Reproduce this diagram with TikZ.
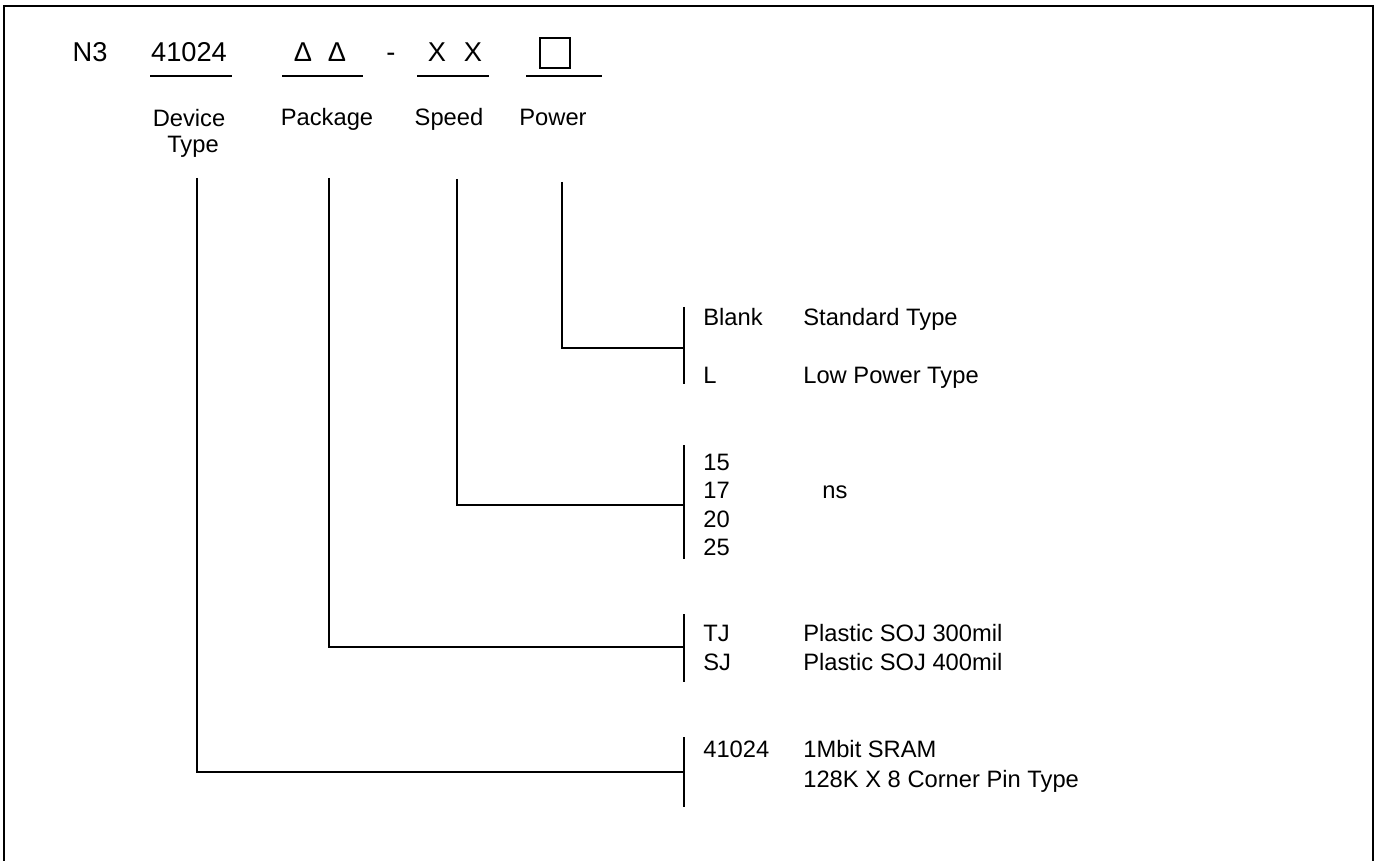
\documentclass[tikz,border=0pt]{standalone}
\usepackage{fontspec}
\setmainfont{Liberation Sans}
\usetikzlibrary{positioning}
\tikzset{
  txt/.style={font=\fontsize{13.5}{16}\selectfont, inner sep=0pt},
  big/.style={font=\fontsize{15.5}{18}\selectfont, inner sep=0pt, anchor=base},
  code/.style={txt, anchor=base west},
  head/.style={txt, anchor=base},
  wire/.style={line width=1.1pt},
  uline/.style={line width=1.2pt}
}
\begin{document}
\begin{tikzpicture}[x=0.02cm, y=-0.02cm]
\useasboundingbox (0,0) rectangle (1375,861);
% Frame
\draw[line width=1.4pt] (4,861) -- (4,6) -- (1373,6) -- (1373,861);
% Part number
\node[big] (n3) at (90,62) {N3};
\node[big] (devCode) at (189,62) {41024};
\node[big] (pkgCode) at (320,62) {Δ\hspace{0.58em}Δ};
\node[big] (dash) at (391,62) {-};
\node[big] (spdCode) at (455,62) {X\hspace{0.66em}X};
\node[draw, line width=1.1pt, minimum size=0.6cm, inner sep=0pt] (pwrCode) at (555,53) {};
\draw[uline] (150,76) -- (232,76);
\draw[uline] (282,76) -- (363,76);
\draw[uline] (417,76) -- (489,76);
\draw[uline] (526,76) -- (602,76);
% Field names
\node[head] (devLbl) at (189,127) {Device};
\node[head] (devLbl2) at (193,153) {Type};
\node[head] (pkgLbl) at (327,126) {Package};
\node[head] (spdLbl) at (449,126) {Speed};
\node[head] (pwrLbl) at (553,126) {Power};
% Branch points
\coordinate (devTop) at (197,178);
\coordinate (pkgTop) at (329,178);
\coordinate (spdTop) at (457,179);
\coordinate (pwrTop) at (562,182);
\coordinate (pwrBar) at (684,348);
\coordinate (spdBar) at (684,505);
\coordinate (pkgBar) at (684,647);
\coordinate (devBar) at (684,772);
% Connectors
\draw[wire] (pwrTop) |- (pwrBar);
\draw[wire] (spdTop) |- (spdBar);
\draw[wire] (pkgTop) |- (pkgBar);
\draw[wire] (devTop) |- (devBar);
% Bars
\draw[wire] (684,307) -- (684,384);
\draw[wire] (684,445) -- (684,559);
\draw[wire] (684,614) -- (684,682);
\draw[wire] (684,737) -- (684,807);
% Power options
\node[code] (pwrBlank) at (703,325) {Blank};
\node[code] (pwrStd) at (803,325) {Standard Type};
\node[code] (pwrL) at (703,383) {L};
\node[code] (pwrLow) at (803,383) {Low Power Type};
% Speed options
\foreach \v/\yy in {15/470,17/498,20/527,25/555}
  \node[code] (spd\v) at (703,\yy) {\v};
\node[code] (spdUnit) at (822,498) {ns};
% Package options
\node[code] (pkgTJ) at (703,641) {TJ};
\node[code] (pkgTJtxt) at (803,641) {Plastic SOJ 300mil};
\node[code] (pkgSJ) at (703,670) {SJ};
\node[code] (pkgSJtxt) at (803,670) {Plastic SOJ 400mil};
% Device options
\node[code] (devNum) at (703,757) {41024};
\node[code] (devTxt) at (803,757) {1Mbit SRAM};
\node[code] (devTxt2) at (803,787) {128K X 8 Corner Pin Type};
\end{tikzpicture}
\end{document}
